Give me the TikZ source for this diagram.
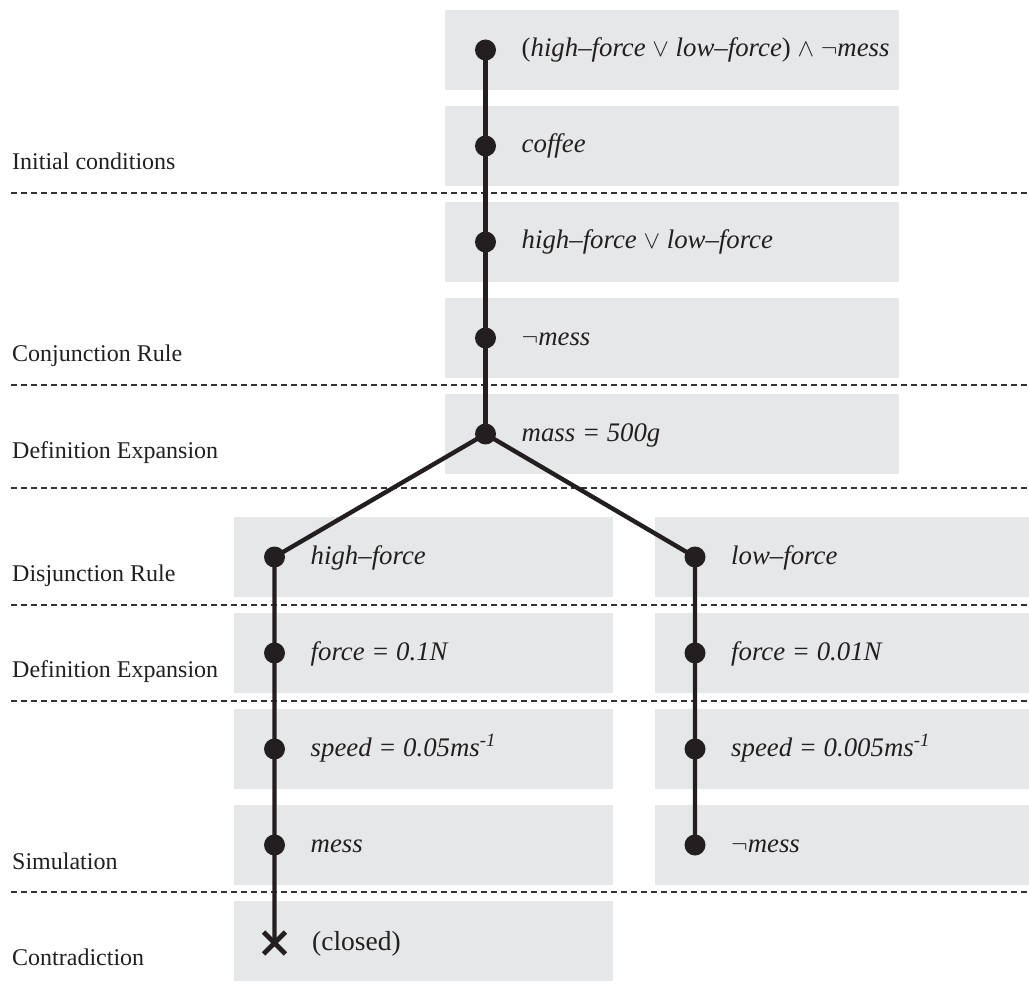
\documentclass[tikz,border=0pt]{standalone}
\usepackage{fontspec}
\setmainfont{Liberation Serif}
\usetikzlibrary{shapes.misc}
\definecolor{ink}{HTML}{231F20}
\definecolor{boxgray}{HTML}{E6E7E8}
\definecolor{sepgray}{HTML}{333333}

% one proof line: #1 name, #2 box left, #3 box width, #4 box top, #5 dot x, #6 formula
\newcommand{\proofrow}[6]{%
  \node[box, minimum width=#3pt] (#1box) at (#2,#4) {};
  \node[dot] (#1) at (#5,#4+40) {};
  \node[stmt] (#1text) at (#5+36,#4+47) {#6};
}

\begin{document}
\begin{tikzpicture}[x=1pt,y=-1pt,
  box/.style={fill=boxgray, draw=none, anchor=north west, inner sep=0pt,
              outer sep=0pt, minimum height=80pt},
  dot/.style={circle, fill=ink, inner sep=0pt, minimum size=21pt},
  stmt/.style={anchor=base west, inner sep=0pt, text=ink,
               font=\fontsize{26.8}{30}\selectfont\itshape},
  stage/.style={anchor=base west, inner sep=0pt, text=ink,
                font=\fontsize{24}{28}\selectfont},
  sep/.style={draw=sepgray, line width=1.1pt, dash pattern=on 6pt off 4pt},
  branch/.style={draw=ink, line width=4.4pt, line join=round},
  closemark/.style={cross out, draw=ink, line width=4.8pt, minimum size=17pt,
                    inner sep=0pt}]

\useasboundingbox[fill=white] (0,0) rectangle (1029,987);

% trunk
\proofrow{r1}{445}{454}{10}{485.5}{\textup{(}high--force~$\vee$ low--force\textup{)} $\wedge$ $\neg$mess}
\proofrow{r2}{445}{454}{106}{485.5}{coffee}
\proofrow{r3}{445}{454}{202}{485.5}{high--force~$\vee$ low--force}
\proofrow{r4}{445}{454}{298}{485.5}{$\neg$mess}
\proofrow{r5}{445}{454}{394}{485.5}{mass = 500g}

% left branch
\proofrow{hl1}{234}{379}{517}{274.5}{high--force}
\proofrow{hl2}{234}{379}{613}{274.5}{force = 0.1N}
\proofrow{hl3}{234}{379}{709}{274.5}{speed = 0.05ms\textsuperscript{-1}}
\proofrow{hl4}{234}{379}{805}{274.5}{mess}
\node[box, minimum width=379pt] (hl5box) at (234,901) {};
\node[closemark] (closed) at (274.5,943) {};
\node[stmt, font=\fontsize{27.5}{30}\selectfont] (closedtext) at (312,950) {(closed)};

% right branch
\proofrow{lr1}{655}{374}{517}{695}{low--force}
\proofrow{lr2}{655}{374}{613}{695}{force = 0.01N}
\proofrow{lr3}{655}{374}{709}{695}{speed = 0.005ms\textsuperscript{-1}}
\proofrow{lr4}{655}{374}{805}{695}{$\neg$mess}

% stage separators
\foreach \yy in {193,385,488,605,701,892}
  \draw[sep] (11,\yy) -- (1029,\yy);

% stage names
\node[stage] (s1) at (12,170) {Initial conditions};
\node[stage] (s2) at (12,362) {Conjunction Rule};
\node[stage] (s3) at (12,458) {Definition Expansion};
\node[stage] (s4) at (12,581) {Disjunction Rule};
\node[stage] (s5) at (12,677) {Definition Expansion};
\node[stage] (s6) at (12,869) {Simulation};
\node[stage] (s7) at (12,965) {Contradiction};

% tree edges
\draw[branch] (r1.center) -- (r2.center) -- (r3.center) -- (r4.center) -- (r5.center);
\draw[branch] (r5.center) -- (hl1.center) -- (hl2.center) -- (hl3.center)
              -- (hl4.center) -- (closed.center);
\draw[branch] (r5.center) -- (lr1.center) -- (lr2.center) -- (lr3.center) -- (lr4.center);
\end{tikzpicture}
\end{document}
